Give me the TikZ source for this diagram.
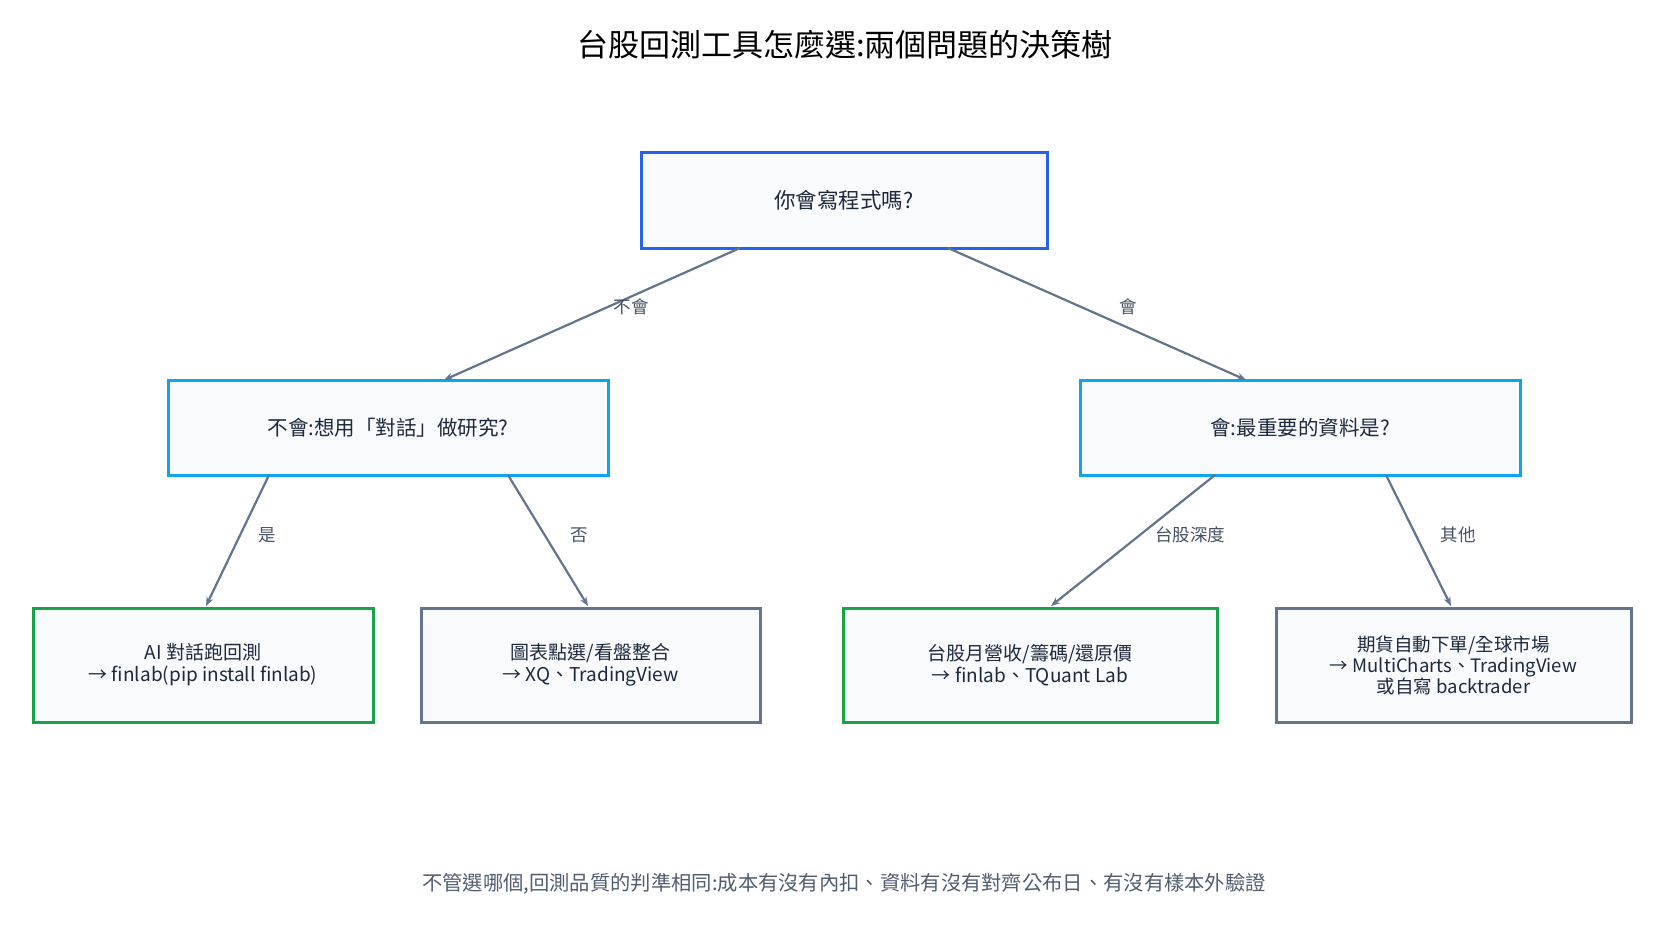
\documentclass[tikz,border=0pt]{standalone}
\usepackage{fontspec}
\setmainfont{Noto Sans CJK TC}
\usetikzlibrary{arrows.meta,calc}
\definecolor{tx}{HTML}{1E293B}
\definecolor{gr}{HTML}{64748B}
\definecolor{bl}{HTML}{2563EB}
\definecolor{cy}{HTML}{0EA5E9}
\definecolor{gn}{HTML}{16A34A}
\definecolor{fl}{HTML}{F8FAFC}
\begin{document}
\begin{tikzpicture}[x=1pt,y=-1pt,
 box/.style={draw=#1,line width=3pt,fill=fl,text=tx,align=center,inner sep=0},
 arr/.style={draw=gr,line width=2.2pt,-{Stealth[length=9pt,width=7pt]}},
 lab/.style={text=gr!70!black,font=\fontsize{17.5}{20}\selectfont}]
\useasboundingbox (0,0) rectangle (1680,945);
\node[font=\fontsize{31}{36}\selectfont,text=black] (title) at (845,45) {台股回測工具怎麼選:兩個問題的決策樹};
\node[box=bl,minimum width=406,minimum height=96,font=\fontsize{21.5}{26}\selectfont] (root) at (844,200) {你會寫程式嗎?};
\node[box=cy,minimum width=440,minimum height=95,font=\fontsize{20.5}{24}\selectfont] (ml) at (388,427.5) {不會:想用「對話」做研究?};
\node[box=cy,minimum width=440,minimum height=95,font=\fontsize{20.5}{24}\selectfont] (mr) at (1300,427.5) {會:最重要的資料是?};
\tikzset{lf/.style={minimum height=114,font=\fontsize{19}{22}\selectfont}}
\node[box=gn,lf,minimum width=340] (l1) at (203,665) {AI 對話跑回測\\→ finlab(pip install finlab)};
\node[box=gr,lf,minimum width=339] (l2) at (590.5,665) {圖表點選/看盤整合\\→ XQ、TradingView};
\node[box=gn,lf,minimum width=374] (l3) at (1030,665) {台股月營收/籌碼/還原價\\→ finlab、TQuant Lab};
\node[box=gr,lf,minimum width=355,font=\fontsize{18.5}{21}\selectfont] (l4) at (1453.5,665) {期貨自動下單/全球市場\\→ MultiCharts、TradingView\\或自寫 backtrader};
\coordinate (r1) at (740,248); \coordinate (r2) at (948,248);
\coordinate (a1) at (444,380); \coordinate (a2) at (1246,380);
\coordinate (m1) at (269,475); \coordinate (m2) at (508,475);
\coordinate (m3) at (1215,475); \coordinate (m4) at (1386,475);
\coordinate (b1) at (206,606); \coordinate (b2) at (588,606);
\coordinate (b3) at (1051,606); \coordinate (b4) at (1451,606);
\draw[arr] (r1) -- (a1); \draw[arr] (r2) -- (a2);
\draw[arr] (m1) -- (b1); \draw[arr] (m2) -- (b2);
\draw[arr] (m3) -- (b3); \draw[arr] (m4) -- (b4);
\node[lab] (t1) at (631,307) {不會};
\node[lab] (t2) at (1128,307) {會};
\node[lab] (t3) at (267,535) {是};
\node[lab] (t4) at (579,535) {否};
\node[lab] (t5) at (1190,535) {台股深度};
\node[lab] (t6) at (1458,535) {其他};
\node[text=gr!80!black,font=\fontsize{20.3}{24}\selectfont] (foot) at (844,884) {不管選哪個,回測品質的判準相同:成本有沒有內扣、資料有沒有對齊公布日、有沒有樣本外驗證};
\end{tikzpicture}
\end{document}
